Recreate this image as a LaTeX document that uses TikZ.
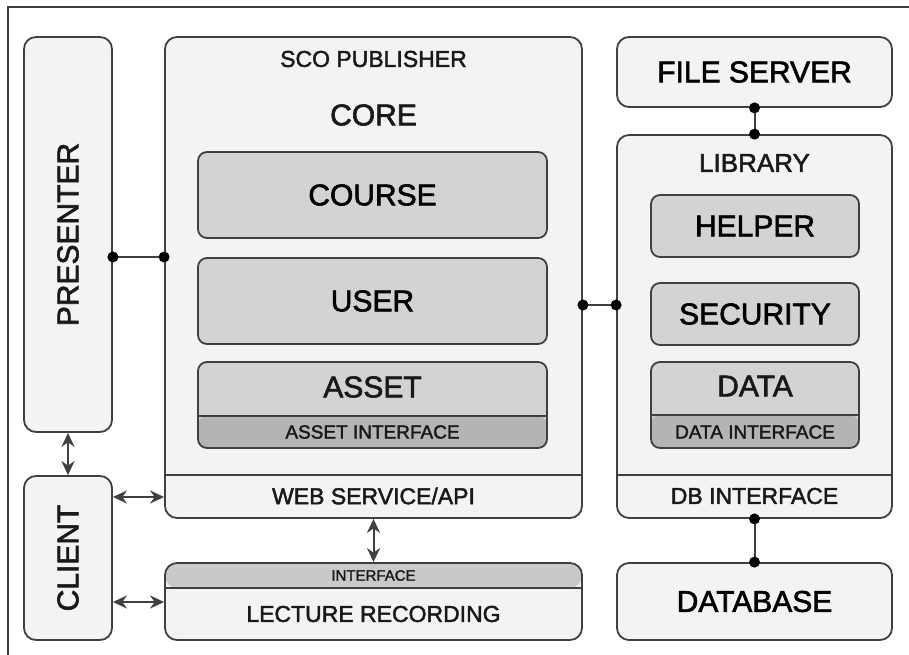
\documentclass[tikz,border=0pt]{standalone}
\usepackage{fontspec}
\setmainfont{Liberation Sans}[FakeBold=2]
\usetikzlibrary{arrows.meta,calc}

\definecolor{edge}{HTML}{404040}
\definecolor{outerfill}{HTML}{F3F3F3}
\definecolor{headfill}{HTML}{E0E0E0}
\definecolor{innerfill}{HTML}{D3D3D3}
\definecolor{bandfill}{HTML}{B4B4B4}
\definecolor{lecband}{HTML}{C9C9C9}

% type sizes
\newcommand{\fbig}{\fontsize{30}{34}\selectfont}
\newcommand{\fmid}{\fontsize{23}{26}\selectfont}
\newcommand{\fsmall}{\fontsize{19}{22}\selectfont}
\newcommand{\ftiny}{\fontsize{15}{17}\selectfont}

\tikzset{
  outerbox/.style={draw=edge, line width=1.8pt, fill=outerfill, rounded corners=12pt,
    rectangle, inner sep=0pt},
  innerbox/.style={draw=edge, line width=1.8pt, fill=innerfill, rounded corners=9pt,
    rectangle, inner sep=0pt},
  lbl/.style={inner sep=0pt, text=black!90},
  link/.style={draw=edge, line width=2pt},
  dot/.style={circle, fill=black, inner sep=0pt, minimum size=11pt},
  twoway/.style={link, {Stealth[length=14pt,width=13pt]}-{Stealth[length=14pt,width=13pt]}},
  topband/.style 2 args={path picture={
      \fill[#2] (path picture bounding box.north west) rectangle
        ([yshift=-#1]path picture bounding box.north east);
      \draw[edge, line width=1.5pt] ([yshift=-#1]path picture bounding box.north west) --
        ([yshift=-#1]path picture bounding box.north east);}},
  bottomband/.style 2 args={path picture={
      \fill[#2] (path picture bounding box.south west) rectangle
        ([yshift=#1]path picture bounding box.south east);
      \draw[edge, line width=1.5pt] ([yshift=#1]path picture bounding box.south west) --
        ([yshift=#1]path picture bounding box.south east);}},
}

\begin{document}
\begin{tikzpicture}[x=1pt, y=-1pt]
\useasboundingbox (0,0) rectangle (909,655);
\fill[white] (0,0) rectangle (909,655);

% page frame
\draw[edge, line width=1.4pt] (909,7) -- (8,7) -- (8,655);

% left column
\node[outerbox, minimum width=88pt, minimum height=395pt] (presenter) at (68,234.5) {};
\node[lbl, rotate=90] at (presenter.center) {\fbig PRESENTER};
\node[outerbox, minimum width=88pt, minimum height=164pt] (client) at (68,558) {};
\node[lbl, rotate=90] at (client.center) {\fbig CLIENT};

% SCO publisher with core modules
\node[outerbox, minimum width=417pt, minimum height=481pt,
      topband={45pt}{headfill}, bottomband={43pt}{outerfill}] (sco) at (373.5,277.5) {};
\node[lbl] (scolbl) at (373.5,59) {\fmid SCO PUBLISHER};
\node[lbl] (corelbl) at (373.5,115) {\fbig CORE};
\node[lbl] (weblbl) at (373.5,496) {\fmid WEB SERVICE/API};

\node[innerbox, minimum width=349pt, minimum height=86pt] (course) at (372.5,195) {\fbig COURSE};
\node[innerbox, minimum width=349pt, minimum height=86pt] (user) at (372.5,301) {\fbig USER};
\node[innerbox, minimum width=349pt, minimum height=86pt,
      bottomband={32pt}{bandfill}] (asset) at (372.5,405) {};
\node[lbl] at (372.5,387) {\fbig ASSET};
\node[lbl] at (372.5,432) {\fsmall ASSET INTERFACE};

% lecture recording
\node[outerbox, minimum width=417pt, minimum height=77pt,
      topband={25pt}{lecband}] (lecture) at (373.5,601.5) {};
\node[lbl] at (373.5,575.5) {\ftiny INTERFACE};
\node[lbl] at (373.5,614) {\fmid LECTURE RECORDING};

% right column
\node[outerbox, minimum width=275pt, minimum height=70pt] (fileserver) at (754.5,72) {\fbig FILE SERVER};
\node[outerbox, minimum width=275pt, minimum height=383pt,
      bottomband={43pt}{outerfill}] (library) at (754.5,326.5) {};
\node[lbl] at (754.5,163) {\fontsize{26}{30}\selectfont LIBRARY};
\node[lbl] at (754.5,496) {\fmid DB INTERFACE};
\node[innerbox, minimum width=208pt, minimum height=62pt] (helper) at (755,226) {\fbig HELPER};
\node[innerbox, minimum width=208pt, minimum height=62pt] (security) at (755,314) {\fbig SECURITY};
\node[innerbox, minimum width=208pt, minimum height=86pt,
      bottomband={33pt}{bandfill}] (data) at (755,405) {};
\node[lbl] at (755,386) {\fbig DATA};
\node[lbl] at (755,432) {\fsmall DATA INTERFACE};
\node[outerbox, minimum width=275pt, minimum height=77pt] (database) at (754.5,601.5) {\fbig DATABASE};

% connectors
\coordinate (ylink1) at (0,257);
\coordinate (ylink2) at (0,305);
\coordinate (ylink3) at (0,497);
\coordinate (ylink4) at (0,602);

\draw[link] (presenter.east |- ylink1) -- (sco.west |- ylink1);
\node[dot] at (presenter.east |- ylink1) {};
\node[dot] at (sco.west |- ylink1) {};

\draw[link] (sco.east |- ylink2) -- (library.west |- ylink2);
\node[dot] at (sco.east |- ylink2) {};
\node[dot] at (library.west |- ylink2) {};

\draw[link] (fileserver.south) -- (library.north);
\node[dot] at (fileserver.south) {};
\node[dot] at (library.north) {};

\draw[link] (library.south) -- (database.north);
\node[dot] at (library.south) {};
\node[dot] at (database.north) {};

\draw[twoway] (presenter.south) -- (client.north);
\draw[twoway] (client.east |- ylink3) -- (sco.west |- ylink3);
\draw[twoway] (client.east |- ylink4) -- (lecture.west |- ylink4);
\draw[twoway] (sco.south) -- (lecture.north);
\end{tikzpicture}
\end{document}
